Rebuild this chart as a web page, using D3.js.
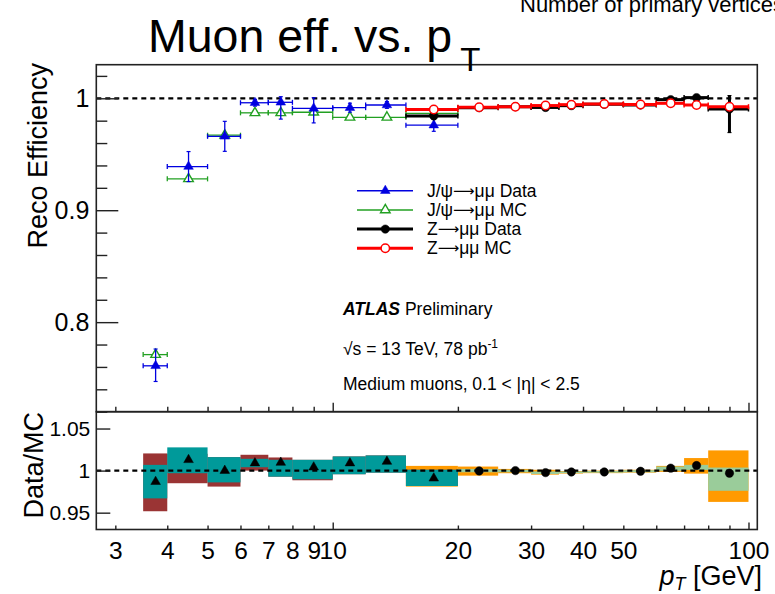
<!DOCTYPE html>
<html>
<head>
<meta charset="utf-8">
<script src="https://cdn.jsdelivr.net/npm/d3@7"></script>
<style>
    body { margin: 0; background: #fff; }
    svg text { font-family: "Liberation Sans", Arial, Helvetica, sans-serif; fill: #000; }
</style>
</head>
<body>
<div id="chart"></div>
<script>
// J/psi -> mumu bins (pT in GeV)
const jpsiEdges = [3.5, 4, 5, 6, 7, 8, 10, 12, 15, 20];
const jpsiData = [0.761, 0.939, 0.966, 0.996, 0.9964, 0.991, 0.9916, 0.994, 0.976];
const jpsiDataErrLo = [0.014, 0.0134, 0.0134, 0.003, 0.015, 0.013, 0.004, 0.003, 0.0055];
const jpsiDataErrHi = [0.015, 0.0134, 0.0134, 0.003, 0.005, 0.0095, 0.004, 0.003, 0.0055];
const jpsiMC = [0.771, 0.928, 0.967, 0.987, 0.987, 0.9875, 0.983, 0.983, 0.9866];

// Z -> mumu bins
const zEdges = [15, 20, 25, 30, 35, 40, 50, 60, 70, 80, 100];
const zData = [0.9842, 0.9916, 0.9925, 0.9918, 0.9934, 0.9946, 0.994, 0.9988, 1.0006, 0.9904];
const zDataErrLo = [0.003, 0.001, 0.001, 0.001, 0.001, 0.001, 0.001, 0.002, 0.002, 0.021];
const zDataErrHi = [0.003, 0.001, 0.001, 0.001, 0.001, 0.001, 0.001, 0.002, 0.002, 0.012];
const zMC = [0.990, 0.992, 0.9925, 0.9935, 0.9943, 0.995, 0.9945, 0.9955, 0.994, 0.9925];

// Data/MC ratio
const jpsiRatio = [0.9868, 1.0128, 1.000, 1.0089, 1.0096, 1.004, 1.0089, 1.0108, 0.9909];
const jpsiStatLo = [0.967, 0.9969, 0.986, 1.004, 0.9928, 0.9897, 0.9957, 0.9976, 0.9817];
const jpsiStatHi = [1.0068, 1.0276, 1.016, 1.014, 1.0128, 1.0128, 1.0168, 1.018, 1.001];
const jpsiSystLo = [0.9517, 0.985, 0.981, 1.0, 0.9928, 0.9885, 0.9957, 0.9976, 0.9817];
const jpsiSystHi = [1.0204, 1.02, 1.016, 1.0188, 1.0156, 1.0128, 1.0168, 1.018, 1.001];

const zRatio = [null, 0.9996, 1.000, 0.9976, 0.9984, 0.9984, 0.9992, 1.0029, 1.006, 0.9969];
const zStatLo = [0.99, 0.998, 0.998, 0.996, 0.997, 0.9975, 0.998, 0.9998, 1.0008, 0.976];
const zStatHi = [1.0, 1.002, 1.001, 0.999, 0.999, 0.9995, 1.0005, 1.0048, 1.0068, 1.0036];
const zSystLo = [0.981, 0.994, 0.9969, 0.9952, 0.9965, 0.997, 0.9976, 0.9985, 0.9964, 0.9628];
const zSystHi = [1.0056, 1.0048, 1.002, 1.001, 0.9995, 1.0, 1.001, 1.0056, 1.0149, 1.024];

// axis ticks
const xMinorTicks = [3, 4, 5, 6, 7, 8, 9, 20, 30, 40, 50, 60, 70, 80, 90];
const xMajorTicks = [10, 100];
const xTickLabels = [3, 4, 5, 6, 7, 8, 9, 10, 20, 30, 40, 50, 100];
const yMainMajor = [0.8, 0.9, 1.0];
const yMainMinor = [0.72, 0.74, 0.76, 0.78, 0.82, 0.84, 0.86, 0.88, 0.92, 0.94, 0.96, 0.98, 1.02];
const yRatioTicks = [0.95, 1.0, 1.05];

// legend: [before arrow, after arrow]
const legendItems = [['J/\u03c8', '\u03bc\u03bc Data'], ['J/\u03c8', '\u03bc\u03bc MC'], ['Z', '\u03bc\u03bc Data'], ['Z', '\u03bc\u03bc MC']];

const colBlue = '#0000e0', colGreen = '#22a022', colRed = '#ff0000';

const W = 775, H = 594;
const L = 96.3, R = 757.3, mainTop = 64.7, mainBot = 411.7, ratioBot = 529.5;

const svg = d3.select('#chart').append('svg')
    .attr('width', W)
    .attr('height', H);

const x = d3.scaleLog().domain([2.7, 105]).range([L, R]);
const yMain = d3.scaleLinear().domain([0.72, 1.03]).range([mainBot, mainTop]);
const yRatio = d3.scaleLinear().domain([0.93, 1.07]).range([ratioBot, mainBot]);

let binCenter = (edges, i) => (edges[i] + edges[i + 1]) / 2;

let drawMarker = (g, type, cx, cy, color) => {
    if (type === 'triFilled' || type === 'triOpen') {
        g.append('path')
            .attr('d', d3.symbol().type(d3.symbolTriangle).size(40)())
            .attr('transform', `translate(${cx},${cy})`)
            .attr('fill', type === 'triFilled' ? color : '#fff')
            .attr('stroke', color)
            .attr('stroke-width', type === 'triFilled' ? 0.5 : 1.4);
    } else {
        g.append('circle')
            .attr('cx', cx).attr('cy', cy).attr('r', 4.2)
            .attr('fill', type === 'dot' ? color : '#fff')
            .attr('stroke', color)
            .attr('stroke-width', type === 'dot' ? 0.5 : 1.5);
    }
}

// points with x bars (bin width) and y error bars
let drawPoints = (edges, vals, errLo, errHi, color, lw, marker) => {
    const g = svg.append('g');
    vals.forEach((v, i) => {
        const x0 = x(edges[i]), x1 = x(edges[i + 1]);
        const cx = x(binCenter(edges, i)), cy = yMain(v);
        g.append('line').attr('x1', x0).attr('x2', x1).attr('y1', cy).attr('y2', cy)
            .attr('stroke', color).attr('stroke-width', lw);
        [x0, x1].forEach(xe => g.append('line')
            .attr('x1', xe).attr('x2', xe).attr('y1', cy - 2.5).attr('y2', cy + 2.5)
            .attr('stroke', color).attr('stroke-width', Math.min(lw, 1.5)));
        if (errLo) {
            const ylo = yMain(v - errLo[i]), yhi = yMain(v + errHi[i]);
            g.append('line').attr('x1', cx).attr('x2', cx).attr('y1', ylo).attr('y2', yhi)
                .attr('stroke', color).attr('stroke-width', lw);
            [ylo, yhi].forEach(ye => g.append('line')
                .attr('x1', cx - 2).attr('x2', cx + 2).attr('y1', ye).attr('y2', ye)
                .attr('stroke', color).attr('stroke-width', 1.2));
        }
    });
    vals.forEach((v, i) => drawMarker(g, marker, x(binCenter(edges, i)), yMain(v), color));
}

let drawBands = (edges, lo, hi, color) => {
    svg.append('g').selectAll('rect')
        .data(lo).enter()
        .append('rect')
        .attr('x', (d, i) => x(edges[i]))
        .attr('width', (d, i) => x(edges[i + 1]) - x(edges[i]))
        .attr('y', (d, i) => yRatio(hi[i]))
        .attr('height', (d, i) => yRatio(lo[i]) - yRatio(hi[i]))
        .attr('fill', color);
}

// ---- main panel
svg.append('line')
    .attr('x1', L).attr('x2', R).attr('y1', yMain(1)).attr('y2', yMain(1))
    .attr('stroke', '#000').attr('stroke-width', 2.2).attr('stroke-dasharray', '5,4');

drawPoints(jpsiEdges, jpsiMC, null, null, colGreen, 1.3, 'triOpen');
drawPoints(jpsiEdges, jpsiData, jpsiDataErrLo, jpsiDataErrHi, colBlue, 1.3, 'triFilled');
drawPoints(zEdges, zData, zDataErrLo, zDataErrHi, '#000', 3, 'dot');
drawPoints(zEdges, zMC, null, null, colRed, 3, 'circleOpen');

// ---- ratio panel
drawBands(zEdges, zSystLo, zSystHi, '#ff9a00');
drawBands(zEdges, zStatLo, zStatHi, '#9acc9a');
drawBands(jpsiEdges, jpsiSystLo, jpsiSystHi, '#9a3434');
drawBands(jpsiEdges, jpsiStatLo, jpsiStatHi, '#009a9a');

svg.append('line')
    .attr('x1', L).attr('x2', R).attr('y1', yRatio(1)).attr('y2', yRatio(1))
    .attr('stroke', '#000').attr('stroke-width', 2.2).attr('stroke-dasharray', '5,4');

const ratioMarks = svg.append('g');
jpsiRatio.forEach((v, i) => drawMarker(ratioMarks, 'triFilled', x(binCenter(jpsiEdges, i)), yRatio(v), '#000'));
zRatio.forEach((v, i) => {
    if (v !== null) drawMarker(ratioMarks, 'dot', x(binCenter(zEdges, i)), yRatio(v), '#000');
});

// ---- frames
svg.append('rect')
    .attr('x', L).attr('y', mainTop).attr('width', R - L).attr('height', mainBot - mainTop)
    .attr('fill', 'none').attr('stroke', '#222').attr('stroke-width', 1.6);
svg.append('rect')
    .attr('x', L).attr('y', mainBot).attr('width', R - L).attr('height', ratioBot - mainBot)
    .attr('fill', 'none').attr('stroke', '#222').attr('stroke-width', 1.6);

// ---- axes
let tickAxis = (axis, tx, ty) => {
    const g = svg.append('g')
        .attr('transform', `translate(${tx},${ty})`)
        .call(axis);
    g.select('.domain').remove();
    g.selectAll('line').attr('stroke', '#222').attr('stroke-width', 1.4);
    return g;
}

tickAxis(d3.axisTop(x).tickValues(xMinorTicks).tickSize(5).tickFormat(''), 0, mainBot);
tickAxis(d3.axisTop(x).tickValues(xMajorTicks).tickSize(9).tickFormat(''), 0, mainBot);
tickAxis(d3.axisTop(x).tickValues(xMinorTicks).tickSize(4).tickFormat(''), 0, ratioBot);
tickAxis(d3.axisTop(x).tickValues(xMajorTicks).tickSize(7).tickFormat(''), 0, ratioBot);

tickAxis(d3.axisBottom(x).tickValues(xTickLabels).tickSize(0).tickPadding(12).tickFormat(d3.format('d')), 0, ratioBot)
    .selectAll('text').attr('font-size', 24.5);

tickAxis(d3.axisRight(yMain).tickValues(yMainMajor).tickSize(22).tickFormat(''), L, 0);
tickAxis(d3.axisRight(yMain).tickValues(yMainMinor).tickSize(11).tickFormat(''), L, 0);
tickAxis(d3.axisLeft(yMain).tickValues(yMainMajor).tickSize(0).tickPadding(7)
    .tickFormat(d => d === 1 ? '1' : d3.format('.1f')(d)), L, 0)
    .selectAll('text').attr('font-size', 25);

tickAxis(d3.axisRight(yRatio).tickValues(yRatioTicks).tickSize(14).tickFormat(''), L, 0);
tickAxis(d3.axisLeft(yRatio).tickValues(yRatioTicks).tickSize(0).tickPadding(6)
    .tickFormat(d => d === 1 ? '1' : d3.format('.2f')(d)), L, 0)
    .selectAll('text').attr('font-size', 21);

// axis titles
svg.append('text')
    .attr('transform', 'translate(47,63) rotate(-90)')
    .attr('text-anchor', 'end')
    .attr('font-size', 27)
    .text('Reco Efficiency');

svg.append('text')
    .attr('transform', 'translate(43,412) rotate(-90)')
    .attr('text-anchor', 'end')
    .attr('font-size', 27)
    .text('Data/MC');

const xTitle = svg.append('text')
    .attr('x', 762).attr('y', 585)
    .attr('text-anchor', 'end')
    .attr('font-size', 27);
xTitle.append('tspan').attr('font-style', 'italic').text('p');
xTitle.append('tspan').attr('font-style', 'italic').attr('font-size', 18).attr('dy', 5).text('T');
xTitle.append('tspan').attr('dy', -5).text(' [GeV]');

// ---- title
const title = svg.append('text')
    .attr('x', 148).attr('y', 52)
    .attr('font-size', 46.5);
title.append('tspan').text('Muon eff. vs. p');
title.append('tspan').attr('font-size', 33).attr('dx', 8).attr('dy', 19).text('T');

svg.append('text')
    .attr('x', 520).attr('y', 12)
    .attr('font-size', 22)
    .text('Number of primary vertices');

// ---- legend
const legendStyles = [
    { color: colBlue, lw: 1.5, marker: 'triFilled' },
    { color: colGreen, lw: 1.5, marker: 'triOpen' },
    { color: '#000', lw: 3, marker: 'dot' },
    { color: colRed, lw: 3, marker: 'circleOpen' }
];
const legend = svg.append('g');
legendItems.forEach((label, i) => {
    const ly = 190.7 + i * 19.2;
    const st = legendStyles[i];
    legend.append('line')
        .attr('x1', 357).attr('x2', 413).attr('y1', ly).attr('y2', ly)
        .attr('stroke', st.color).attr('stroke-width', st.lw);
    drawMarker(legend, st.marker, 385.3, ly, st.color);
    const t = legend.append('text')
        .attr('x', 427).attr('y', ly + 6)
        .attr('font-size', 17.5);
    t.append('tspan').text(label[0]);
    t.append('tspan').attr('font-family', 'DejaVu Sans').attr('font-size', 15).attr('dy', -1).text('\u27f6');
    t.append('tspan').attr('dy', 1).text(label[1]);
});

// ---- ATLAS label
const atlas = svg.append('text').attr('x', 343).attr('y', 315).attr('font-size', 17.5);
atlas.append('tspan').attr('font-weight', 'bold').attr('font-style', 'italic').text('ATLAS');
atlas.append('tspan').text(' Preliminary');

const lumi = svg.append('text').attr('x', 343).attr('y', 355).attr('font-size', 17.5);
lumi.append('tspan').text('\u221as = 13 TeV, 78 pb');
lumi.append('tspan').attr('font-size', 12).attr('dy', -7).text('-1');

svg.append('text').attr('x', 343).attr('y', 390).attr('font-size', 17.5)
    .text('Medium muons, 0.1 < |\u03b7| < 2.5');
</script>
</body>
</html>
